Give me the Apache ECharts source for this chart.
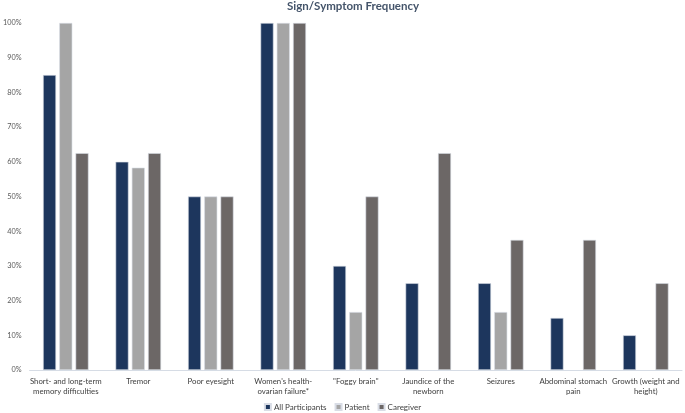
<!DOCTYPE html>
<html><head><meta charset="utf-8">
<script src="https://cdn.jsdelivr.net/npm/echarts@6/dist/echarts.min.js"></script>
<style>html,body{margin:0;padding:0;background:#fff}#c{width:685px;height:413px}</style>
</head><body><div id="c"></div>
<script>
const categories = ["Short- and long-term\nmemory difficulties","Tremor","Poor eyesight","Women's health-\novarian failure*","\"Foggy brain\"","Jaundice of the\nnewborn","Seizures","Abdominal stomach\npain","Growth (weight and\nheight)"];
const allParticipants = [85, 60, 50, 100, 30, 25, 25, 15, 10];
const patient = [100, 58.3, 50, 100, 16.7, null, 16.7, null, null];
const caregiver = [62.5, 62.5, 50, 100, 50, 62.5, 37.5, 37.5, 25];
const yTicks = [0, 10, 20, 30, 40, 50, 60, 70, 80, 90, 100];

const font = "Lato, sans-serif";
const chart = echarts.init(document.getElementById('c'));
const mk = (name, data, color) => ({
  name, type: 'bar', data, barWidth: 13, barGap: '25%',
  itemStyle: {color, borderColor: '#d9dde6', borderWidth: 0.6}
});
chart.setOption({
  animation: false,
  title: {text: 'Sign/Symptom Frequency', left: 287, top: 0, padding: [0, 0, 0, 0],
    textStyle: {fontFamily: font, fontSize: 11.5, fontWeight: 'bold', color: '#44546a'}},
  legend: {top: 403, left: 'center', itemWidth: 6, itemHeight: 6, itemGap: 8, padding: 0,
    icon: 'rect', textStyle: {fontFamily: font, fontSize: 8, color: '#404040', padding: [0, 0, 0, -2]},
    data: ['All Participants', 'Patient', 'Caregiver']},
  grid: {left: 25, right: 3, top: 23, bottom: 43},
  xAxis: {type: 'category', data: categories,
    axisLine: {lineStyle: {color: '#d6dce5'}}, axisTick: {show: false},
    axisLabel: {fontFamily: font, fontSize: 7.8, color: '#404040', interval: 0, lineHeight: 10, margin: 6}},
  yAxis: {type: 'value', min: yTicks[0], max: yTicks[yTicks.length - 1], interval: 10,
    splitLine: {show: false}, axisLine: {show: false}, axisTick: {show: false},
    axisLabel: {fontFamily: font, fontSize: 7.3, color: '#595959', margin: 8,
      formatter: v => v + '%'}},
  series: [
    mk('All Participants', allParticipants, '#1d365d'),
    mk('Patient', patient, '#a5a5a5'),
    mk('Caregiver', caregiver, '#6c6766')
  ]
});
</script></body></html>
